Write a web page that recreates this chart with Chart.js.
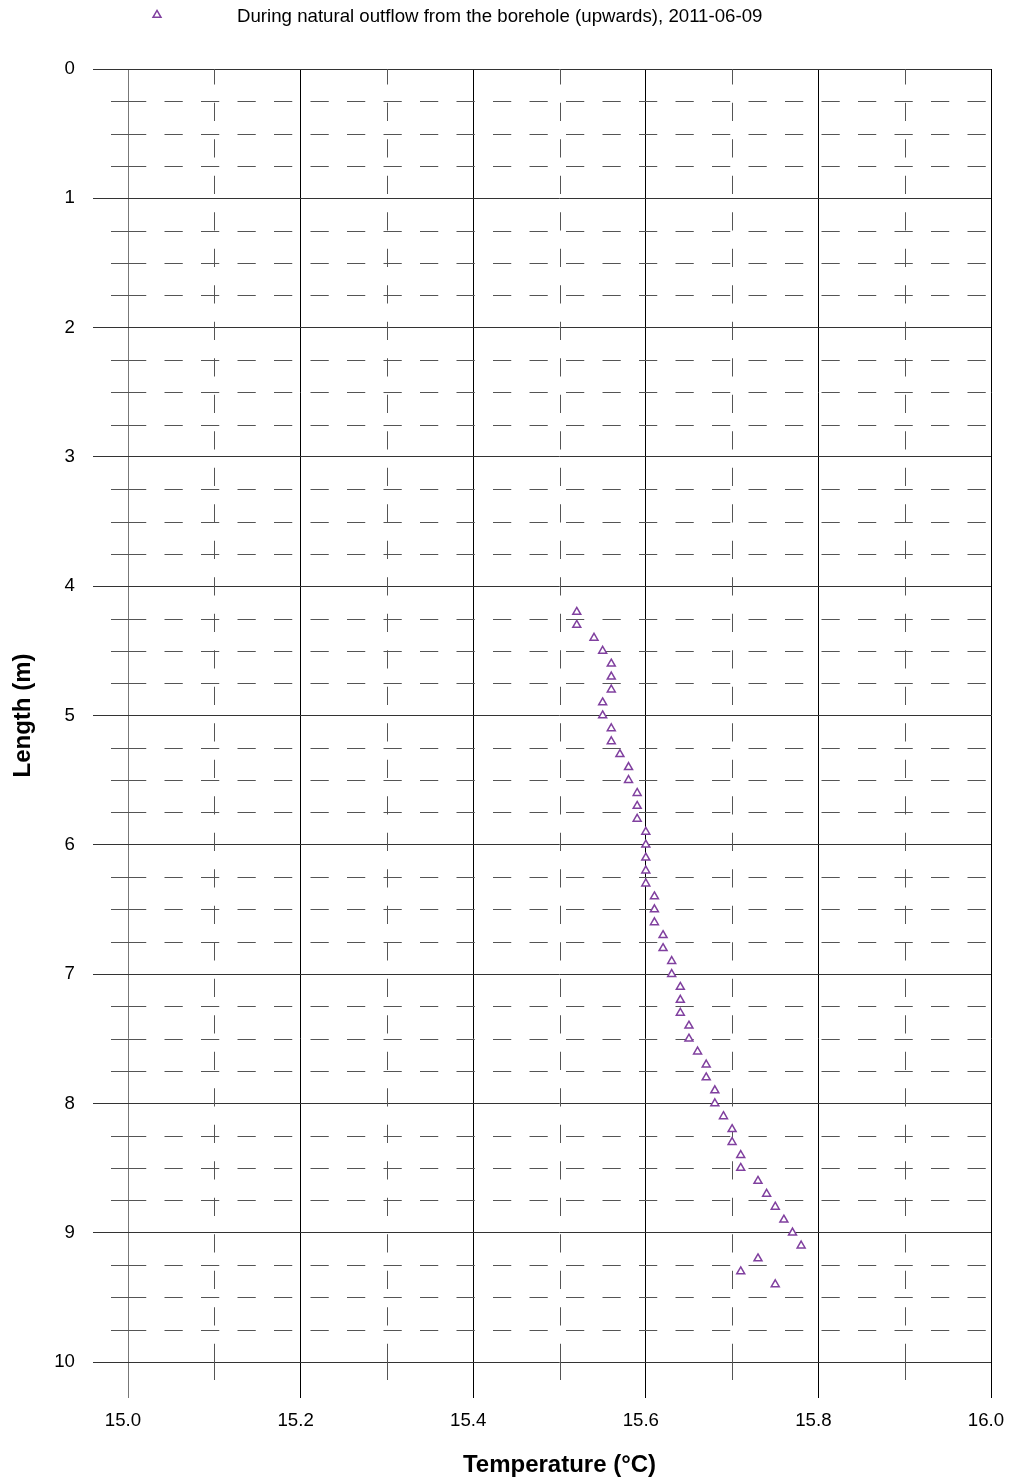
<!DOCTYPE html>
<html>
<head>
<meta charset="utf-8">
<title>Temperature vs length</title>
<script src="https://cdn.jsdelivr.net/npm/chart.js@4/dist/chart.umd.min.js"></script>
<style>
  body { margin: 0; background: #fff; }
  #wrap { width: 1012px; height: 1482px; }
</style>
</head>
<body>
<div id="wrap"><canvas id="profile" width="1012" height="1482"></canvas></div>
<script>
const seriesLabel = "During natural outflow from the borehole (upwards), 2011-06-09";

// length along the borehole (m)
const depths = [
  4.2, 4.3, 4.4, 4.5, 4.6, 4.7, 4.8, 4.9, 5.0, 5.1, 5.2, 5.3, 5.4, 5.5,
  5.6, 5.7, 5.8, 5.9, 6.0, 6.1, 6.2, 6.3, 6.4, 6.5, 6.6, 6.7, 6.8, 6.9,
  7.0, 7.1, 7.2, 7.3, 7.4, 7.5, 7.6, 7.7, 7.8, 7.9, 8.0, 8.1, 8.2, 8.3,
  8.4, 8.5, 8.6, 8.7, 8.8, 8.9, 9.0, 9.1, 9.2, 9.3, 9.4
];

// temperature (°C) read at each length
const temps = [
  15.52, 15.52, 15.54, 15.55, 15.56, 15.56, 15.56, 15.55, 15.55, 15.56, 15.56, 15.57, 15.58, 15.58,
  15.59, 15.59, 15.59, 15.60, 15.60, 15.60, 15.60, 15.60, 15.61, 15.61, 15.61, 15.62, 15.62, 15.63,
  15.63, 15.64, 15.64, 15.64, 15.65, 15.65, 15.66, 15.67, 15.67, 15.68, 15.68, 15.69, 15.70, 15.70,
  15.71, 15.71, 15.73, 15.74, 15.75, 15.76, 15.77, 15.78, 15.73, 15.71, 15.75
];

const tempTicks = [15.0, 15.2, 15.4, 15.6, 15.8, 16.0];
const tempMinor = [15.1, 15.3, 15.5, 15.7, 15.9];
const depthTicks = [0, 1, 2, 3, 4, 5, 6, 7, 8, 9, 10];
const depthMinorSteps = [0.25, 0.5, 0.75];

const purple = "#80409f";
const fontFamily = "'Liberation Sans', Arial, Helvetica, sans-serif";

Chart.defaults.font.family = fontFamily;
Chart.defaults.font.size = 18.67;
Chart.defaults.color = "#000";

// dashed quarter-metre / 0.1 °C lines, placed through the chart's own scales
const minorGrid = {
  id: "minorGrid",
  beforeDatasetsDraw(chart) {
    const { ctx, chartArea: a, scales } = chart;
    const dash = [18.25, 18.25];
    const line = (x1, y1, x2, y2) => {
      ctx.beginPath();
      ctx.moveTo(x1, y1);
      ctx.lineTo(x2, y2);
      ctx.stroke();
    };
    ctx.save();
    ctx.strokeStyle = "#555";
    ctx.lineWidth = 1;

    depthTicks.slice(0, -1).forEach((d) => {
      depthMinorSteps.forEach((s) => {
        const py = Math.round(scales.y.getPixelForValue(d + s)) + 0.5;
        ctx.setLineDash([]);
        line(a.left - 17, py, a.left, py);
        ctx.setLineDash(dash);
        line(a.left, py, a.right, py);
      });
    });

    tempMinor.forEach((t) => {
      const px = Math.round(scales.x.getPixelForValue(t)) + 0.5;
      ctx.setLineDash([]);
      line(px, a.bottom, px, a.bottom + 18);
      ctx.setLineDash(dash);
      line(px, a.bottom, px, a.top);
    });
    ctx.restore();
  },
};

// single-entry legend above the plot
const topLegend = {
  id: "topLegend",
  afterDraw(chart) {
    const ctx = chart.ctx;
    const ds = chart.data.datasets[0];
    ctx.save();
    ctx.fillStyle = ds.pointBackgroundColor;
    ctx.strokeStyle = ds.pointBorderColor;
    ctx.lineWidth = ds.pointBorderWidth;
    Chart.helpers.drawPoint(ctx, {
      pointStyle: "triangle",
      radius: ds.pointRadius,
      borderWidth: ds.pointBorderWidth,
      rotation: 0,
    }, 157, 15);
    ctx.fillStyle = "#000";
    ctx.font = "18.67px " + fontFamily;
    ctx.textAlign = "left";
    ctx.textBaseline = "middle";
    ctx.fillText(ds.label, 237, 17);
    ctx.restore();
  },
};

const points = depths.map((d, i) => ({ x: temps[i], y: d }));

new Chart(document.getElementById("profile"), {
  type: "scatter",
  data: {
    datasets: [
      {
        label: seriesLabel,
        data: points,
        showLine: false,
        pointStyle: "triangle",
        pointRadius: 4.6,
        pointBorderWidth: 1.5,
        pointBorderColor: purple,
        pointBackgroundColor: "#fff",
      },
    ],
  },
  options: {
    responsive: false,
    animation: false,
    events: [],
    layout: { padding: { top: 69, right: 21, bottom: 0, left: 0 } },
    plugins: {
      legend: { display: false },
      tooltip: { enabled: false },
    },
    scales: {
      x: {
        type: "linear",
        position: "bottom",
        min: 15,
        max: 16,
        afterBuildTicks: (s) => {
          s.ticks = tempTicks.map((v) => ({ value: v }));
        },
        afterFit: (s) => {
          s.height = 120;
          s.paddingLeft = 0;
          s.paddingRight = 0;
        },
        border: { display: false },
        grid: {
          color: (c) => (c.tick && c.tick.value === 15 ? "#777" : "#000"),
          lineWidth: 1,
          tickLength: 36,
        },
        ticks: {
          padding: 12,
          labelOffset: -5,
          maxRotation: 0,
          autoSkip: false,
          callback: (v) => Number(v).toFixed(1),
        },
        title: {
          display: true,
          text: "Temperature (°C)",
          font: { size: 24, weight: "bold" },
          padding: { top: 0, bottom: 2 },
        },
      },
      y: {
        type: "linear",
        position: "left",
        reverse: true,
        min: 0,
        max: 10,
        afterBuildTicks: (s) => {
          s.ticks = depthTicks.map((v) => ({ value: v }));
        },
        afterFit: (s) => {
          s.width = 128;
          s.paddingTop = 0;
          s.paddingBottom = 0;
        },
        border: { display: false },
        grid: {
          color: "#333",
          lineWidth: 1,
          tickLength: 35,
        },
        ticks: {
          padding: 18,
          autoSkip: false,
        },
        title: {
          display: true,
          text: "Length (m)",
          font: { size: 24, weight: "bold" },
          padding: { top: 8.6, bottom: 0 },
        },
      },
    },
  },
  plugins: [minorGrid, topLegend],
});
</script>
</body>
</html>
